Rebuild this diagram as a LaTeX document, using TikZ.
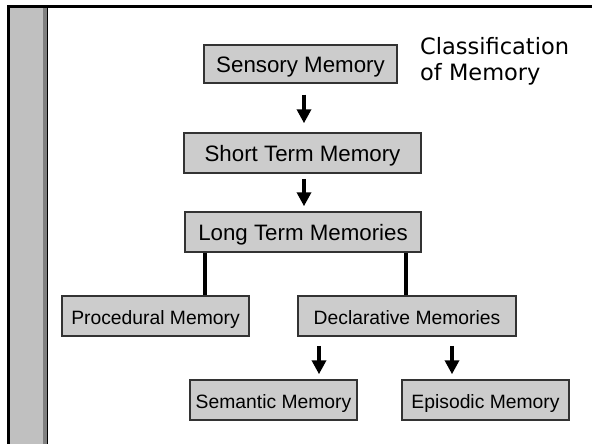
\documentclass[tikz,border=0pt]{standalone}
\usepackage{fontspec}
\setmainfont{Liberation Sans}
\newfontfamily\titlefont{DejaVu Sans}
\usetikzlibrary{arrows.meta}
\definecolor{boxfill}{RGB}{204,204,204}
\definecolor{boxline}{RGB}{51,51,51}
\definecolor{barfill}{RGB}{192,192,192}
\definecolor{barline}{RGB}{128,128,128}
\tikzset{
    memblock/.style={draw=boxline, fill=boxfill, line width=1.5pt, inner sep=0pt,
        minimum height=40pt, text height=17.6pt, text depth=0pt,
        font=\fontsize{22.3}{26}\selectfont},
    subblock/.style={memblock, text height=16.6pt, font=\fontsize{19.3}{23}\selectfont},
    arr/.style={line width=4pt, -{Triangle[width=14pt, length=14pt]}},
    link/.style={line width=3.5pt}
}
\begin{document}
\begin{tikzpicture}[x=1pt, y=-1pt]
    \useasboundingbox (0, 0) rectangle (592, 444);
    % slide frame
    \fill[barfill] (8, 6) rectangle (44, 444);
    \fill[barline] (43, 6) rectangle (47, 444);
    \draw[line width=1.6pt] (47.5, 6) -- (47.5, 444);
    \draw[line width=3pt] (8.5, 444) -- (8.5, 6.5) -- (592, 6.5);
    \node[anchor=north west, align=left, inner sep=0pt,
        font=\titlefont\fontsize{22.5}{26}\selectfont] (title) at(420, 37) {Classification\\of Memory};
    % boxes
    \node[memblock, minimum width=193pt, minimum height=38pt] (sens) at(300.5, 64) {Sensory Memory};
    \node[memblock, minimum width=237pt] (short) at(302.5, 153) {Short Term Memory};
    \node[memblock, minimum width=236pt] (long) at(303, 232) {Long Term Memories};
    \node[subblock, minimum width=187pt] (proc) at(155.5, 316) {Procedural Memory};
    \node[subblock, minimum width=218pt] (decl) at(407, 316) {Declarative Memories};
    \node[subblock, minimum width=167pt] (sem) at(273.5, 400) {Semantic Memory};
    \node[subblock, minimum width=167pt] (epi) at(485.5, 400) {Episodic Memory};
    % connectors
    \coordinate (ax) at(304, 0);
    \coordinate (px) at(205, 0);
    \coordinate (dx) at(406, 0);
    \coordinate (sx) at(319, 0);
    \coordinate (ex) at(452, 0);
    \draw[arr, shorten <=11pt, shorten >=9pt] (sens.south -| ax) -- (short.north -| ax);
    \draw[arr, shorten <=5pt, shorten >=5pt] (short.south -| ax) -- (long.north -| ax);
    \draw[link] (long.south -| px) -- (proc.north -| px);
    \draw[link] (long.south -| dx) -- (decl.north -| dx);
    \draw[arr, shorten <=9pt, shorten >=5pt] (decl.south -| sx) -- (sem.north -| sx);
    \draw[arr, shorten <=9pt, shorten >=5pt] (decl.south -| ex) -- (epi.north -| ex);
\end{tikzpicture}
\end{document}
